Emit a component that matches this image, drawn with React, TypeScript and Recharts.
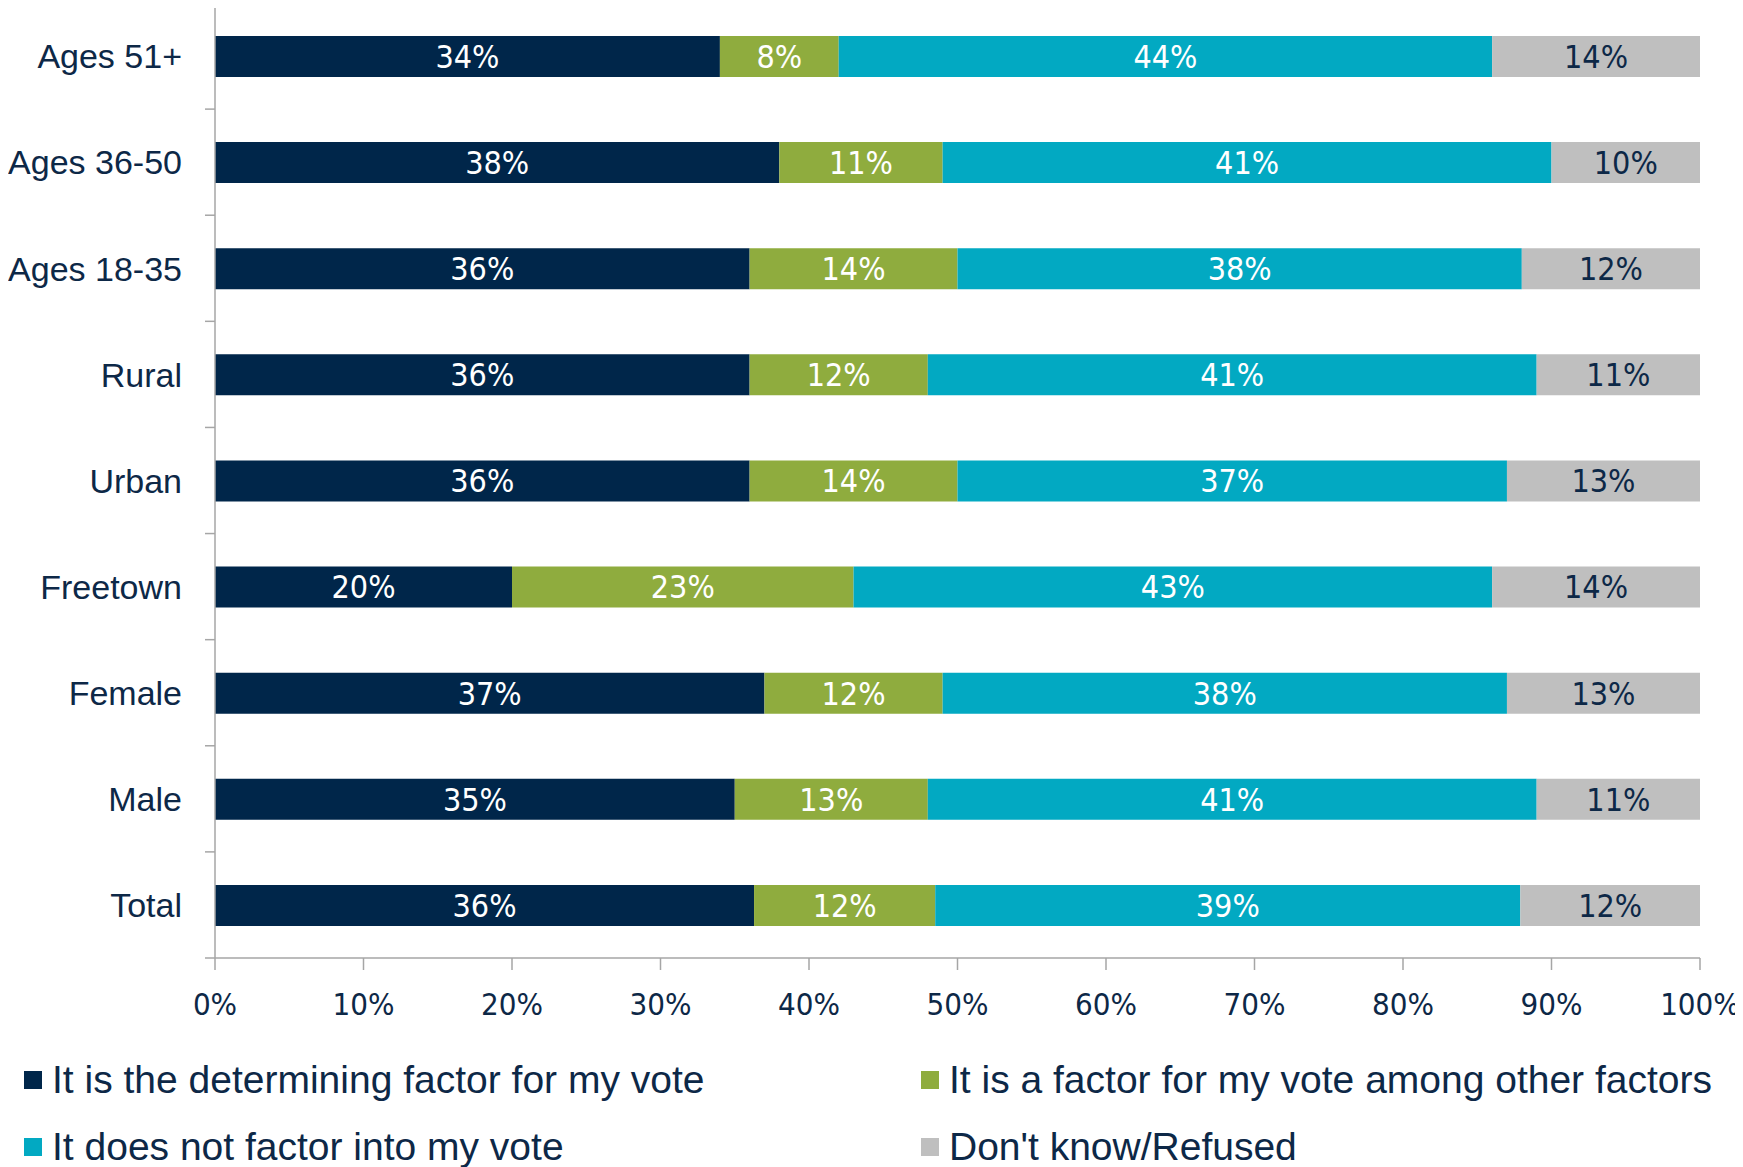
import React from 'react';
import { BarChart, Bar, XAxis, YAxis, Legend, LabelList } from 'recharts';

const categories = ['Ages 51+', 'Ages 36-50', 'Ages 18-35', 'Rural', 'Urban', 'Freetown', 'Female', 'Male', 'Total'];
const determining = [34, 38, 36, 36, 36, 20, 37, 35, 36.3];
const amongOther = [8, 11, 14, 12, 14, 23, 12, 13, 12.2];
const notFactor = [44, 41, 38, 41, 37, 43, 38, 41, 39.4];
const dontKnow = [14, 10, 12, 11, 13, 14, 13, 11, 12.1];
const xTicks = [0, 10, 20, 30, 40, 50, 60, 70, 80, 90, 100];

const seriesKeys = ['determining', 'amongOther', 'notFactor', 'dontKnow'];
const seriesNames = [
  'It is the determining factor for my vote',
  'It is a factor for my vote among other factors',
  'It does not factor into my vote',
  "Don't know/Refused",
];
const seriesColors = ['#00264A', '#8FAC3E', '#02A9C2', '#BFBFBF'];
const labelColors = ['#FFFFFF', '#FFFFFF', '#FFFFFF', '#0D2847'];

const data = categories.map((name, i) => ({
  name,
  determining: determining[i],
  amongOther: amongOther[i],
  notFactor: notFactor[i],
  dontKnow: dontKnow[i],
}));

const TEXT = '#0D2847';
const AXIS = '#A6A6A6';
const WORD_FONT = '"Liberation Sans", Arial, sans-serif';
const NUM_FONT = '"DejaVu Sans Condensed", "Liberation Sans Narrow", "DejaVu Sans", sans-serif';

const YTick = (props: any) => {
  const { x, y, payload, index, visibleTicksCount } = props;
  const off = payload && typeof payload.offset === 'number' ? payload.offset : 0;
  const last = index === (visibleTicksCount ?? categories.length) - 1;
  return (
    <g>
      <line x1={x - 10} x2={x} y1={y - off} y2={y - off} stroke={AXIS} strokeWidth={1.5} />
      {last && <line x1={x - 10} x2={x} y1={y + off} y2={y + off} stroke={AXIS} strokeWidth={1.5} />}
      <text
        x={x - 33}
        y={y}
        dy="0.36em"
        textAnchor="end"
        fill={TEXT}
        fontFamily={WORD_FONT}
        fontSize={34}
      >
        {payload.value}
      </text>
    </g>
  );
};

const renderLegend = () => (
  <div style={{ display: 'grid', gridTemplateColumns: '897px 1fr', gridAutoRows: '67px' }}>
    {seriesNames.map((n, i) => (
      <div key={n} style={{ display: 'flex', alignItems: 'center' }}>
        <span style={{ display: 'inline-block', width: 18, height: 18, background: seriesColors[i], marginRight: 10 }} />
        <span style={{ fontFamily: WORD_FONT, fontSize: 39, color: TEXT, whiteSpace: 'nowrap' }}>{n}</span>
      </div>
    ))}
  </div>
);

export default function App() {
  return (
    <div style={{ margin: '-8px 0 0 -8px', width: 1743, height: 1167, background: '#fff', position: 'relative' }}>
      <BarChart
        width={1743}
        height={1167}
        data={data}
        layout="vertical"
        margin={{ top: 3, right: 43, bottom: 149, left: 0 }}
      >
        <XAxis
          type="number"
          domain={[0, 100]}
          ticks={xTicks}
          interval={0}
          tickFormatter={(v: number) => `${v}%`}
          axisLine={{ stroke: AXIS, strokeWidth: 1.5 }}
          tickLine={{ stroke: AXIS, strokeWidth: 1.5 }}
          tickSize={12}
          tickMargin={23}
          height={60}
          tick={{ fill: TEXT, fontFamily: NUM_FONT, fontSize: 31 }}
        />
        <YAxis
          type="category"
          dataKey="name"
          width={215}
          axisLine={{ stroke: AXIS, strokeWidth: 1.5 }}
          tickLine={false}
          tickSize={0}
          tickMargin={0}
          interval={0}
          tick={<YTick />}
        />
        <Legend
          layout="horizontal"
          verticalAlign="middle"
          align="center"
          wrapperStyle={{ top: 1046, left: 24, width: 1719 }}
          content={renderLegend}
        />
        {seriesKeys.map((k, i) => (
          <Bar
            key={k}
            dataKey={k}
            name={seriesNames[i]}
            stackId="a"
            fill={seriesColors[i]}
            barSize={41}
            isAnimationActive={false}
          >
            <LabelList
              dataKey={k}
              position="center"
              formatter={(v: any) => `${Math.round(Number(v))}%`}
              fill={labelColors[i]}
              style={{ fontFamily: NUM_FONT, fontSize: 32 }}
            />
          </Bar>
        ))}
      </BarChart>
    </div>
  );
}
